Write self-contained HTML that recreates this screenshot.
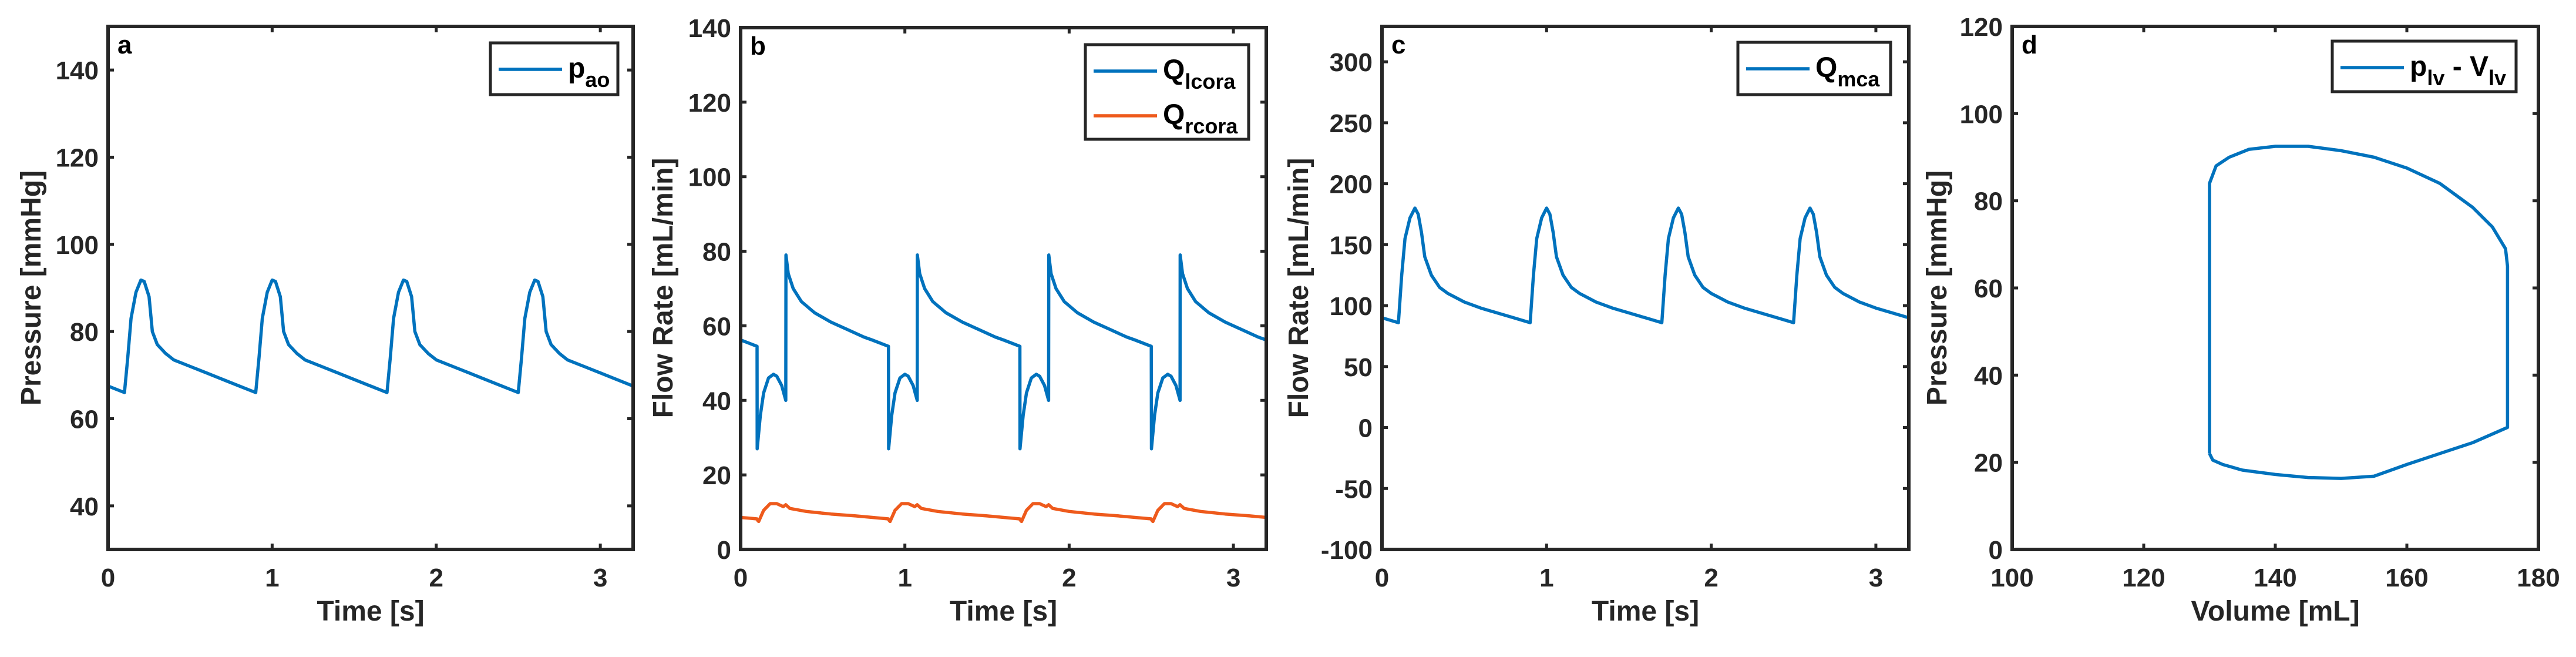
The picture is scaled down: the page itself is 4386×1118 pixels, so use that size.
<!DOCTYPE html>
<html><head><meta charset="utf-8"><style>
html,body{margin:0;padding:0;background:#fff;}
svg{display:block;font-family:"Liberation Sans",Arial,sans-serif;font-weight:bold;}
</style></head><body>
<svg id="fig" width="4386" height="1118" viewBox="0 0 4386 1118" xmlns="http://www.w3.org/2000/svg"></svg>
<script>
// ---- data ----
const beatOnsets = [0.1, 0.9, 1.7, 2.5];
const prevOnset = -0.7;
// panel a: aortic pressure, one cycle (time since onset, mmHg)
const paoTau = [0,0.02,0.04,0.07,0.1,0.12,0.15,0.17,0.2,0.25,0.3,0.4,0.5,0.6,0.7,0.8];
const paoVal = [66,74,83,89,91.8,91.5,88,80,77,75,73.5,72,70.5,69,67.5,66];
// panel b: left coronary flow
const qlTau = [0,0.001,0.02,0.04,0.07,0.1,0.12,0.15,0.175,0.176,0.19,0.22,0.27,0.35,0.45,0.55,0.65,0.7,0.8];
const qlVal = [54.5,27,36,42,46,47,46.5,44,40,79,74,70,66.5,63.5,61,59,57,56.2,54.5];
// panel b: right coronary flow
const qrTau = [0,0.01,0.04,0.08,0.12,0.16,0.175,0.2,0.3,0.45,0.6,0.8];
const qrVal = [8,7.5,10.5,12.3,12.3,11.5,12,11,10.2,9.5,9,8.2];
// panel c: MCA flow
const qmTau = [0,0.02,0.04,0.07,0.1,0.12,0.14,0.16,0.2,0.25,0.3,0.4,0.5,0.6,0.7,0.8];
const qmVal = [86,125,155,172,180,175,160,140,125,115,110,103,98,94,90,86];
// panel d: PV loop
const pvVol = [130,130,131,133,136,140,145,150,155,160,165,170,173,175,175.3,175.3,170,165,160,155,150,145,140,135,132,130.5,130];
const pvPres = [22,84,88,90,91.8,92.5,92.5,91.5,90,87.5,84,78.5,74,69,65,28,24.5,22,19.5,16.8,16.3,16.5,17.2,18.2,19.5,20.5,22];
// ticks
const timeTicks = [0,1,2,3];
const aYTicks = [40,60,80,100,120,140];
const bYTicks = [0,20,40,60,80,100,120,140];
const cYTicks = [-100,-50,0,50,100,150,200,250,300];
const dYTicks = [0,20,40,60,80,100,120];
const dXTicks = [100,120,140,160,180];

const NS="http://www.w3.org/2000/svg";
const svg=document.getElementById('fig');
const BLUE="#0072BD", ORANGE="#EE5A1C", INK="#262626";
function el(tag,attrs,parent){const e=document.createElementNS(NS,tag);for(const k in attrs)e.setAttribute(k,attrs[k]);(parent||svg).appendChild(e);return e;}

function series(tau,val){const t=[],v=[];const starts=[prevOnset].concat(beatOnsets);
  starts.forEach(s=>{for(let i=0;i<tau.length;i++){t.push(s+tau[i]);v.push(val[i]);}});return [t,v];}

function panel(p){
  const g=el('g',{});
  
  
  const X=v=>p.L+(v-p.x0)/(p.x1-p.x0)*(p.R-p.L);
  const Y=v=>p.B-(v-p.y0)/(p.y1-p.y0)*(p.B-p.T);
  const clip=el('clipPath',{id:'clip-'+p.id},g);
  el('rect',{x:p.L,y:p.T,width:p.R-p.L,height:p.B-p.T},clip);
  p.lines.forEach(ln=>{
    let pts=[];for(let i=0;i<ln.x.length;i++)pts.push(X(ln.x[i]).toFixed(1)+','+Y(ln.y[i]).toFixed(1));
    const pl=el('polyline',{points:pts.join(' '),fill:'none',stroke:ln.c,'stroke-width':5.5,'stroke-linejoin':'round','clip-path':'url(#clip-'+p.id+')'},g);
    
    
  });
  const fr=el('rect',{x:p.L,y:p.T,width:p.R-p.L,height:p.B-p.T,fill:'none',stroke:INK,'stroke-width':6},g);
  
  
  p.xt.forEach(v=>{const x=X(v);
    el('line',{x1:x,y1:p.B,x2:x,y2:p.B-10,stroke:INK,'stroke-width':5},g);
    el('line',{x1:x,y1:p.T,x2:x,y2:p.T+10,stroke:INK,'stroke-width':5},g);
    const t=el('text',{x:x,y:998,'text-anchor':'middle','font-size':44,fill:INK},g);t.textContent=String(v);
    
    
  });
  p.yt.forEach(v=>{const y=Y(v);
    el('line',{x1:p.L,y1:y,x2:p.L+10,y2:y,stroke:INK,'stroke-width':5},g);
    el('line',{x1:p.R,y1:y,x2:p.R-10,y2:y,stroke:INK,'stroke-width':5},g);
    const t=el('text',{x:p.L-16,y:y+16,'text-anchor':'end','font-size':44,fill:INK},g);t.textContent=String(v);
    
    
  });
  const xt=el('text',{x:(p.L+p.R)/2,y:1056,'text-anchor':'middle','font-size':48,fill:INK},g);xt.textContent=p.xlabel;
  
  
  const yc=490;
  const yt=el('text',{x:p.ylx,y:yc,'text-anchor':'middle','font-size':48,fill:INK,transform:'rotate(-90 '+p.ylx+' '+yc+')',dy:17},g);yt.textContent=p.ylabel;
  
  
  const pl=el('text',{x:p.L+16,y:p.T+46,'font-size':44,fill:'#000'},g);pl.textContent=p.id;
  
  
  // legend
  const lg=p.leg;
  const lr=el('rect',{x:lg.x,y:lg.y,width:lg.w,height:lg.h,fill:'#fff',stroke:INK,'stroke-width':5},g);
  
  
  lg.items.forEach((it,i)=>{const yy=lg.y+45+i*76;
    el('line',{x1:lg.x+14,y1:yy,x2:lg.x+122,y2:yy,stroke:it.c,'stroke-width':5.5},g);
    const t=el('text',{x:lg.x+132,y:yy+14,'font-size':48,fill:'#000'},g);
    
    
    it.parts.forEach(pt=>{const s=el('tspan',{},t);s.textContent=pt[0];
      if(pt[1]){s.setAttribute('font-size','36');s.setAttribute('dy','16');}
      else if(pt[2]){s.setAttribute('dy','-16');}});
  });
}

const a=series(paoTau,paoVal), bl=series(qlTau,qlVal), br=series(qrTau,qrVal), c=series(qmTau,qmVal);
panel({id:'a',L:184,R:1078,T:45,B:935,x0:0,x1:3.2,y0:30,y1:150,xt:timeTicks,yt:aYTicks,xlabel:'Time [s]',ylabel:'Pressure [mmHg]',ylx:52,
  lines:[{x:a[0],y:a[1],c:BLUE,name:'pao-line'}],
  leg:{x:835,y:73,w:217,h:88,items:[{c:BLUE,parts:[['p'],['ao',1]]}]}});
panel({id:'b',L:1261,R:2156,T:47,B:935,x0:0,x1:3.2,y0:0,y1:140,xt:timeTicks,yt:bYTicks,xlabel:'Time [s]',ylabel:'Flow Rate [mL/min]',ylx:1128,
  lines:[{x:bl[0],y:bl[1],c:BLUE,name:'qlcora-line'},{x:br[0],y:br[1],c:ORANGE,name:'qrcora-line'}],
  leg:{x:1848,y:76,w:278,h:161,items:[{c:BLUE,parts:[['Q'],['lcora',1]]},{c:ORANGE,parts:[['Q'],['rcora',1]]}]}});
panel({id:'c',L:2353,R:3250,T:45,B:935,x0:0,x1:3.2,y0:-100,y1:329,xt:timeTicks,yt:cYTicks,xlabel:'Time [s]',ylabel:'Flow Rate [mL/min]',ylx:2210,
  lines:[{x:c[0],y:c[1],c:BLUE,name:'qmca-line'}],
  leg:{x:2959,y:72,w:260,h:89,items:[{c:BLUE,parts:[['Q'],['mca',1]]}]}});
panel({id:'d',L:3426,R:4322,T:45,B:935,x0:100,x1:180,y0:0,y1:120,xt:dXTicks,yt:dYTicks,xlabel:'Volume [mL]',ylabel:'Pressure [mmHg]',ylx:3297,
  lines:[{x:pvVol,y:pvPres,c:BLUE,name:'pv-loop-line'}],
  leg:{x:3971,y:70,w:313,h:86,items:[{c:BLUE,parts:[['p'],['lv',1],[' - ',0,1],['V'],['lv',1]]}]}});
</script>
</body></html>
